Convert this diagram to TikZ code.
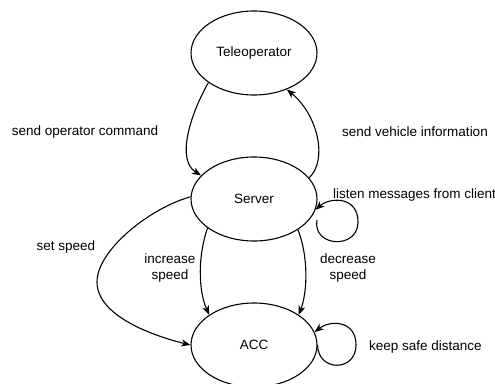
\documentclass[tikz,border=0pt]{standalone}
\usepackage{fontspec}
\setmainfont{Liberation Sans}
\usetikzlibrary{shapes.geometric,arrows.meta}
\begin{document}
\begin{tikzpicture}[x=1pt,y=-1pt,
  state/.style={draw,ellipse,line width=1.1pt,minimum width=126pt,minimum height=84pt,inner sep=0pt},
  edge/.style={line width=1.1pt,-{Stealth[length=9pt,width=7pt,inset=2.5pt]}},
  lbl/.style={inner sep=0pt,align=center},
  every node/.append style={font=\fontsize{13.5}{16}\selectfont}]
\useasboundingbox (0,0) rectangle (495,383);

% states
\node[state] (tele) at (254,53) {Teleoperator};
\node[state] (srv)  at (254,199) {Server};
\node[state] (acc)  at (254,345) {ACC};

% teleoperator <-> server
\draw[edge] (tele.-147) .. controls (190,115) and (176,160) .. (srv.156);
\draw[edge] (srv.21) .. controls (328,160) and (318,115) .. (tele.-48);

% server self loop
\coordinate (srvloop) at (317,220);
\draw[edge] (srvloop) .. controls (312,247) and (358,250) .. (358,222)
  .. controls (358,196) and (330,197) .. (srv.-10);

% server -> acc
\draw[edge] (srv.178) .. controls (150,208) and (97,250) .. (97,282)
  .. controls (97,315) and (150,335) .. (acc.west);
\draw[edge] (srv.-148) .. controls (198,255) and (198,290) .. (acc.146);
\draw[edge] (srv.-35) .. controls (308,255) and (308,290) .. (acc.34);

% acc self loop
\draw[edge] (acc.east) .. controls (318,372) and (356,372) .. (356,345)
  .. controls (356,320) and (330,320) .. (acc.12);

% labels
\node[lbl] (l1) at (85,132) {send operator command};
\node[lbl] (l2) at (415,132) {send vehicle information};
\node[lbl,anchor=west] (l3) at (333,195) {listen messages from client};
\node[lbl] (l4) at (66,247) {set speed};
\node[lbl] (l5) at (170,268) {increase\\speed};
\node[lbl] (l6) at (348,268) {decrease\\speed};
\node[lbl,anchor=west] (l7) at (369,347) {keep safe distance};
\end{tikzpicture}
\end{document}
